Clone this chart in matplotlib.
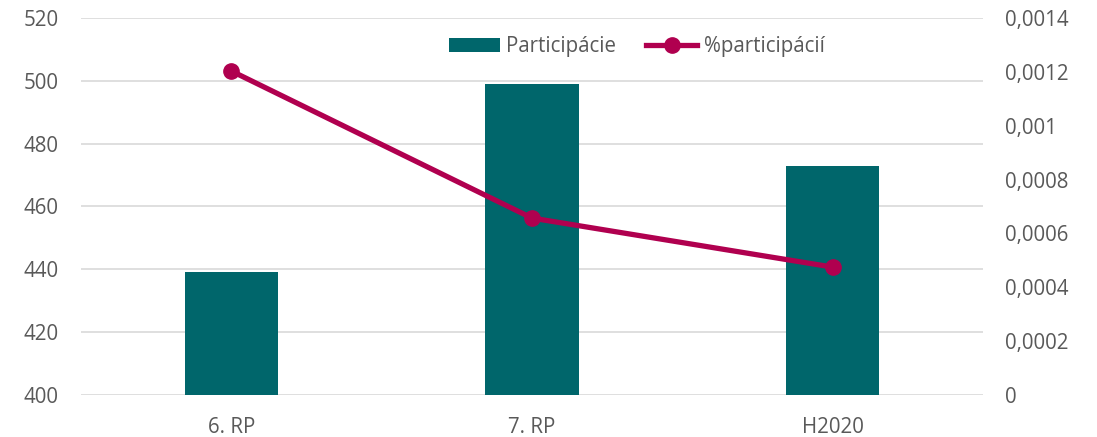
import numpy as np
import matplotlib
matplotlib.use('Agg')
from matplotlib import pyplot as plt
from matplotlib.ticker import FuncFormatter, MultipleLocator

categories = ['6. RP', '7. RP', 'H2020']
participacie = [439, 499, 473]
percent_participacii = [0.001203, 0.000657, 0.000475]

bar_color = '#00666B'
line_color = '#B0004F'
text_color = '#595959'

plt.rcParams['font.family'] = ['Open Sans', 'DejaVu Sans']
fs = 14.8

fig = plt.figure(figsize=(10.97, 4.37), dpi=100)
ax = fig.add_axes([0.0738, 0.096, 0.8222, 0.863])
x = np.arange(len(categories))

ax.bar(x, participacie, width=0.31, color=bar_color, zorder=2, label='Participácie')
ax.set_ylim(400, 520)
ax.set_xlim(-0.5, 2.5)
ax.yaxis.set_major_locator(MultipleLocator(20))
ax.grid(axis='y', color='#D9D9D9', linewidth=1.2, zorder=0)
ax.set_axisbelow(True)
ax.set_xticks(x)
ax.set_xticklabels(categories)
for s in ax.spines.values():
    s.set_visible(False)
ax.tick_params(axis='both', length=0, colors=text_color, labelsize=fs)
ax.tick_params(axis='y', pad=16)
ax.tick_params(axis='x', pad=16)

ax2 = ax.twinx()
ax2.plot(x, percent_participacii, color=line_color, linewidth=3.8, marker='o',
         markersize=11, label='%participácií', zorder=3)
ax2.set_ylim(0, 0.0014)
ax2.yaxis.set_major_locator(MultipleLocator(0.0002))
ax2.yaxis.set_major_formatter(FuncFormatter(lambda v, p: ('%g' % round(v, 6)).replace('.', ',')))
for s in ax2.spines.values():
    s.set_visible(False)
ax2.tick_params(axis='y', length=0, colors=text_color, labelsize=fs, pad=16)

h1, l1 = ax.get_legend_handles_labels()
h2, l2 = ax2.get_legend_handles_labels()
leg = ax2.legend(h1 + h2, l1 + l2, loc='center', bbox_to_anchor=(0.616, 0.923),
                 ncol=2, frameon=False, fontsize=fs, handlelength=2.5,
                 handletextpad=0.3, columnspacing=1.45)
for t in leg.get_texts():
    t.set_color(text_color)

fig.savefig('out.png', dpi=100)
